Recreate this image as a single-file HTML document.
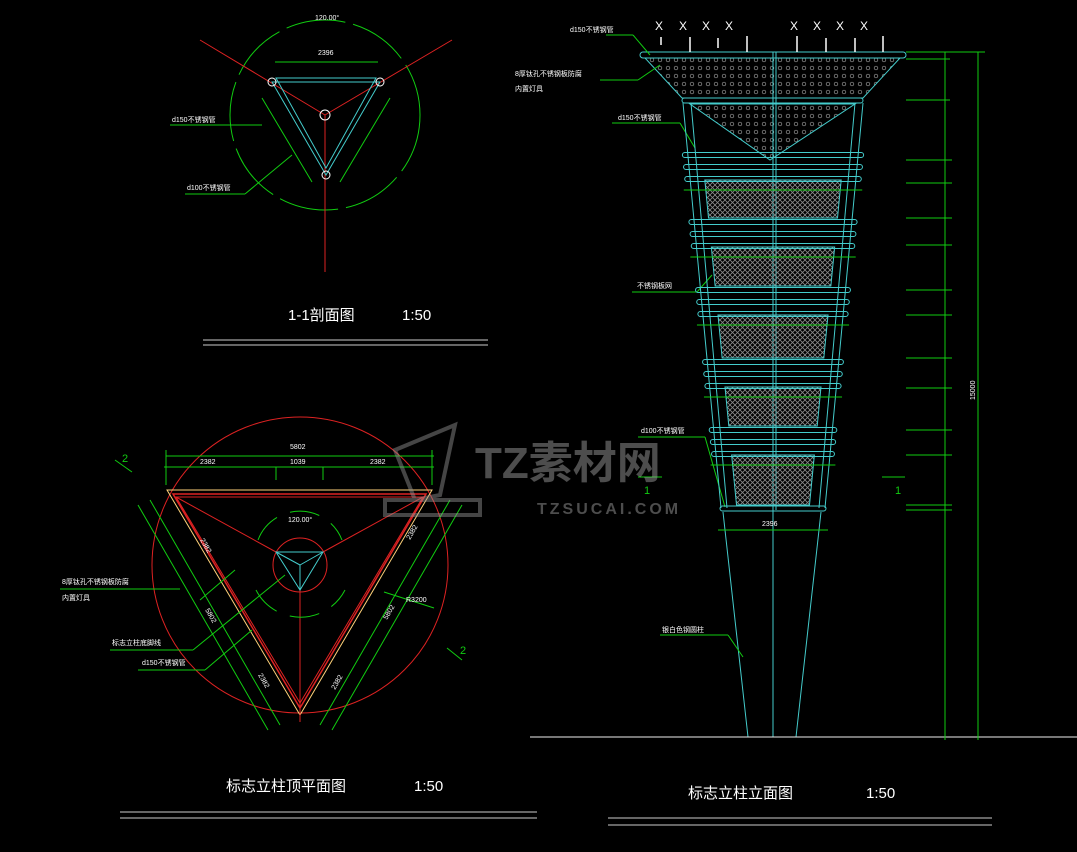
<!DOCTYPE html>
<html><head><meta charset="utf-8"><style>
html,body{margin:0;padding:0;background:#000;width:1077px;height:852px;overflow:hidden}
svg{display:block}
text{font-family:"Liberation Sans","Noto Sans CJK SC",sans-serif}
</style></head><body>
<svg id="s" width="1077" height="852" viewBox="0 0 1077 852" xmlns="http://www.w3.org/2000/svg">
<defs>
<pattern id="mesh" width="5" height="5" patternUnits="userSpaceOnUse">
<path d="M0 0L5 5M5 0L0 5" stroke="#8a8a8a" stroke-width="0.8"/>
</pattern>
<pattern id="dots" width="8" height="8" patternUnits="userSpaceOnUse">
<circle cx="4" cy="4" r="1.8" fill="none" stroke="#999" stroke-width="0.7"/>
</pattern>
</defs>
<rect width="1077" height="852" fill="#000"/>

<!-- Top-left section 1-1 -->
<g fill="none" stroke-width="1">
<circle cx="325" cy="115" r="95" stroke="#1c1" stroke-dasharray="60 8"/>
<line x1="325" y1="115" x2="200" y2="40" stroke="#d22"/>
<line x1="325" y1="115" x2="452" y2="40" stroke="#d22"/>
<line x1="325" y1="115" x2="325" y2="272" stroke="#d22"/>
<polygon points="272,82 380,82 326,175" stroke="#4cc"/>
<polygon points="276,78 376,78 326,168" stroke="#4cc"/>
<circle cx="272" cy="82" r="4" stroke="#fff"/>
<circle cx="380" cy="82" r="4" stroke="#fff"/>
<circle cx="326" cy="175" r="4" stroke="#fff"/>
<circle cx="325" cy="115" r="5" stroke="#fff"/>
<line x1="275" y1="62" x2="378" y2="62" stroke="#1c1"/>
<line x1="262" y1="98" x2="312" y2="182" stroke="#1c1"/>
<line x1="390" y1="98" x2="340" y2="182" stroke="#1c1"/>
<line x1="170" y1="125" x2="262" y2="125" stroke="#1c1"/>
<line x1="185" y1="194" x2="245" y2="194" stroke="#1c1"/>
<line x1="245" y1="194" x2="292" y2="155" stroke="#1c1"/>
<line x1="203" y1="340" x2="488" y2="340" stroke="#ccc"/>
<line x1="203" y1="345" x2="488" y2="345" stroke="#ccc"/>
</g>
<g fill="#fff" font-size="7">
<text x="315" y="20">120.00°</text>
<text x="318" y="55">2396</text>
<text x="172" y="122">d150不锈钢管</text>
<text x="187" y="190">d100不锈钢管</text>
</g>
<text x="288" y="320" fill="#fff" font-size="15">1-1剖面图</text>
<text x="402" y="320" fill="#fff" font-size="15">1:50</text>

<!-- Bottom-left plan -->
<g fill="none" stroke-width="1">
<circle cx="300" cy="565" r="148" stroke="#d22"/>
<circle cx="300" cy="565" r="27" stroke="#d22"/>
<polygon points="167,490 432,490 300,715" stroke="#ffd27a"/>
<polygon points="173,494 426,494 300,708" stroke="#d22" stroke-width="1.5"/>
<polygon points="176,497 423,497 300,703" stroke="#d22"/>
<line x1="176" y1="497" x2="276" y2="552" stroke="#d22"/>
<line x1="423" y1="497" x2="323" y2="552" stroke="#d22"/>
<line x1="300" y1="590" x2="300" y2="722" stroke="#d22"/>
<polygon points="276,552 323,552 300,590" stroke="#4cc"/>
<line x1="300" y1="565" x2="276" y2="552" stroke="#4cc"/>
<line x1="300" y1="565" x2="323" y2="552" stroke="#4cc"/>
<line x1="300" y1="565" x2="300" y2="590" stroke="#4cc"/>
<path d="M258 540 A45 45 0 0 1 342 540 M256 590 A50 50 0 0 0 345 590" stroke="#1c1" stroke-dasharray="30 14"/>
<line x1="166" y1="456" x2="434" y2="456" stroke="#1c1"/>
<line x1="164" y1="467" x2="434" y2="467" stroke="#1c1"/>
<line x1="166" y1="450" x2="166" y2="485" stroke="#1c1"/>
<line x1="432" y1="450" x2="432" y2="485" stroke="#1c1"/>
<line x1="276" y1="467" x2="276" y2="480" stroke="#1c1"/>
<line x1="323" y1="467" x2="323" y2="480" stroke="#1c1"/>
<line x1="150" y1="500" x2="280" y2="725" stroke="#1c1"/>
<line x1="138" y1="505" x2="268" y2="730" stroke="#1c1"/>
<line x1="450" y1="500" x2="320" y2="725" stroke="#1c1"/>
<line x1="462" y1="505" x2="332" y2="730" stroke="#1c1"/>
<line x1="200" y1="600" x2="235" y2="570" stroke="#1c1"/>
<line x1="384" y1="592" x2="434" y2="608" stroke="#1c1"/>
<line x1="115" y1="460" x2="132" y2="472" stroke="#1c1"/>
<line x1="447" y1="648" x2="462" y2="660" stroke="#1c1"/>
<line x1="60" y1="589" x2="180" y2="589" stroke="#1c1"/>
<line x1="110" y1="650" x2="193" y2="650" stroke="#1c1"/>
<line x1="193" y1="650" x2="285" y2="575" stroke="#1c1"/>
<line x1="138" y1="670" x2="205" y2="670" stroke="#1c1"/>
<line x1="205" y1="670" x2="252" y2="630" stroke="#1c1"/>
<line x1="120" y1="812" x2="537" y2="812" stroke="#ccc"/>
<line x1="120" y1="818" x2="537" y2="818" stroke="#ccc"/>
</g>
<g fill="#fff" font-size="7">
<text x="290" y="449">5802</text>
<text x="200" y="464">2382</text>
<text x="290" y="464">1039</text>
<text x="370" y="464">2382</text>
<text x="288" y="522">120.00°</text>
<text x="62" y="584">8厚钛孔不锈钢板防腐</text>
<text x="62" y="600">内置灯具</text>
<text x="112" y="645">标志立柱底脚线</text>
<text x="142" y="665">d150不锈钢管</text>
<text transform="translate(200,540) rotate(60)">2382</text>
<text transform="translate(205,610) rotate(60)">5802</text>
<text transform="translate(258,675) rotate(60)">2382</text>
<text transform="translate(410,540) rotate(-60)">2382</text>
<text transform="translate(387,620) rotate(-60)">5802</text>
<text transform="translate(335,690) rotate(-60)">2382</text>
<text x="406" y="602">R3200</text>
</g>
<text x="122" y="462" fill="#1c1" font-size="11">2</text>
<text x="460" y="654" fill="#1c1" font-size="11">2</text>
<text x="226" y="791" fill="#fff" font-size="15">标志立柱顶平面图</text>
<text x="414" y="791" fill="#fff" font-size="15">1:50</text>

<!-- Elevation -->
<g id="elev" fill="none" stroke-width="1">
<polygon points="645,58 900,58 863,98 682,98" fill="url(#dots)" stroke="#4cc"/>
<polygon points="690,104 855,104 770,160" fill="url(#dots)" stroke="#4cc"/>
<rect x="640" y="52" width="266" height="6" rx="3" stroke="#4cc"/>
<rect x="682" y="98" width="181" height="5" rx="2.5" stroke="#4cc"/>
<line x1="773" y1="52" x2="773" y2="737" stroke="#4cc"/>
<line x1="776" y1="52" x2="776" y2="510" stroke="#4cc"/>
<line x1="723" y1="512" x2="748" y2="737" stroke="#4cc"/>
<line x1="821" y1="512" x2="796" y2="737" stroke="#4cc"/>
<line x1="530" y1="737" x2="1077" y2="737" stroke="#eee"/>
<line x1="945" y1="52" x2="945" y2="740" stroke="#1c1"/>
<line x1="978" y1="52" x2="978" y2="740" stroke="#1c1"/>
<line x1="906" y1="52" x2="985" y2="52" stroke="#1c1"/>
<line x1="906" y1="59" x2="950" y2="59" stroke="#1c1"/>
<line x1="906" y1="100" x2="950" y2="100" stroke="#1c1"/>
<line x1="606" y1="35" x2="633" y2="35" stroke="#1c1"/>
<line x1="633" y1="35" x2="650" y2="55" stroke="#1c1"/>
<line x1="600" y1="80" x2="638" y2="80" stroke="#1c1"/>
<line x1="638" y1="80" x2="660" y2="65" stroke="#1c1"/>
<line x1="612" y1="123" x2="680" y2="123" stroke="#1c1"/>
<line x1="680" y1="123" x2="695" y2="148" stroke="#1c1"/>
<line x1="632" y1="292" x2="697" y2="292" stroke="#1c1"/>
<line x1="697" y1="292" x2="712" y2="275" stroke="#1c1"/>
<line x1="638" y1="437" x2="705" y2="437" stroke="#1c1"/>
<line x1="705" y1="437" x2="725" y2="507" stroke="#1c1"/>
<line x1="660" y1="635" x2="728" y2="635" stroke="#1c1"/>
<line x1="728" y1="635" x2="743" y2="657" stroke="#1c1"/>
<line x1="638" y1="477" x2="662" y2="477" stroke="#1c1"/>
<line x1="882" y1="477" x2="905" y2="477" stroke="#1c1"/>
<line x1="608" y1="818" x2="992" y2="818" stroke="#ccc"/>
<line x1="608" y1="825" x2="992" y2="825" stroke="#ccc"/>
</g>
<g fill="#fff" font-size="7">
<text x="570" y="32">d150不锈钢管</text>
<text x="515" y="76">8厚钛孔不锈钢板防腐</text>
<text x="515" y="91">内置灯具</text>
<text x="618" y="120">d150不锈钢管</text>
<text x="637" y="288">不锈钢板网</text>
<text x="641" y="433">d100不锈钢管</text>
<text x="662" y="632">银白色钢圆柱</text>
<text transform="translate(975,400) rotate(-90)">15000</text>
<text x="762" y="526">2396</text>
</g>
<text x="644" y="494" fill="#1c1" font-size="11">1</text>
<text x="895" y="494" fill="#1c1" font-size="11">1</text>
<g fill="#fff" font-size="12" font-family="Liberation Sans">
<text x="655" y="30">X</text><text x="679" y="30">X</text><text x="702" y="30">X</text><text x="725" y="30">X</text>
<text x="790" y="30">X</text><text x="813" y="30">X</text><text x="836" y="30">X</text><text x="860" y="30">X</text>
</g>
<g stroke="#fff" stroke-width="1.5">
<line x1="661" y1="37" x2="661" y2="45"/><line x1="690" y1="37" x2="690" y2="52"/><line x1="718" y1="38" x2="718" y2="48"/><line x1="747" y1="36" x2="747" y2="52"/>
<line x1="797" y1="36" x2="797" y2="52"/><line x1="826" y1="38" x2="826" y2="52"/><line x1="855" y1="38" x2="855" y2="52"/><line x1="883" y1="36" x2="883" y2="52"/>
</g>
<text x="688" y="798" fill="#fff" font-size="15">标志立柱立面图</text>
<text x="866" y="798" fill="#fff" font-size="15">1:50</text>

<!-- watermark -->
<g opacity="0.45">
<text x="475" y="478" fill="#aaa" font-size="44" font-weight="bold">TZ素材网</text>
<text x="537" y="514" fill="#aaa" font-size="16" font-weight="bold" letter-spacing="3">TZSUCAI.COM</text>
<path d="M395 450 L455 425 L440 495 L415 500 Z M385 500 L480 500 L480 515 L385 515Z" fill="none" stroke="#999" stroke-width="4"/>
</g>
</svg>
<script>
(function(){
var s=document.getElementById('elev'),ns='http://www.w3.org/2000/svg';
function w(y){return 90-(y-100)*40/410;}
function el(t,a){var e=document.createElementNS(ns,t);for(var k in a)e.setAttribute(k,a[k]);s.appendChild(e);return e;}
// columns
el('line',{x1:773-90,y1:103,x2:773-52,y2:508,stroke:'#4cc'});
el('line',{x1:773+90,y1:103,x2:773+52,y2:508,stroke:'#4cc'});
el('line',{x1:773-82,y1:103,x2:773-46,y2:508,stroke:'#4cc'});
el('line',{x1:773+82,y1:103,x2:773+46,y2:508,stroke:'#4cc'});
var groups=[155,222,290,362,430];
var mesh=[[180,218],[247,286],[315,358],[387,426],[455,505]];
mesh.forEach(function(m){
 var a=w(m[0])-14,b=w(m[1])-14;
 el('polygon',{points:(773-a)+','+m[0]+' '+(773+a)+','+m[0]+' '+(773+b)+','+m[1]+' '+(773-b)+','+m[1],fill:'url(#mesh)',stroke:'#4cc'});
 var yy=m[0]+10,ww=w(yy)+8;
 el('line',{x1:773-ww,y1:yy,x2:773+ww,y2:yy,stroke:'#1c1'});
});
groups.forEach(function(g){for(var i=0;i<3;i++){var y=g+i*12,ww=w(y)+6;
 el('rect',{x:773-ww,y:y-2.5,width:2*ww,height:5,rx:2.5,stroke:'#4cc'});}});
el('rect',{x:720,y:506,width:106,height:5,rx:2.5,stroke:'#4cc'});
el('line',{x1:718,y1:530,x2:828,y2:530,stroke:'#1c1'});
var dims=[160,183,218,245,290,315,358,388,430,455,505,510];
dims.forEach(function(y){el('line',{x1:906,y1:y,x2:952,y2:y,stroke:'#1c1'});});
})();
</script>
</body></html>
